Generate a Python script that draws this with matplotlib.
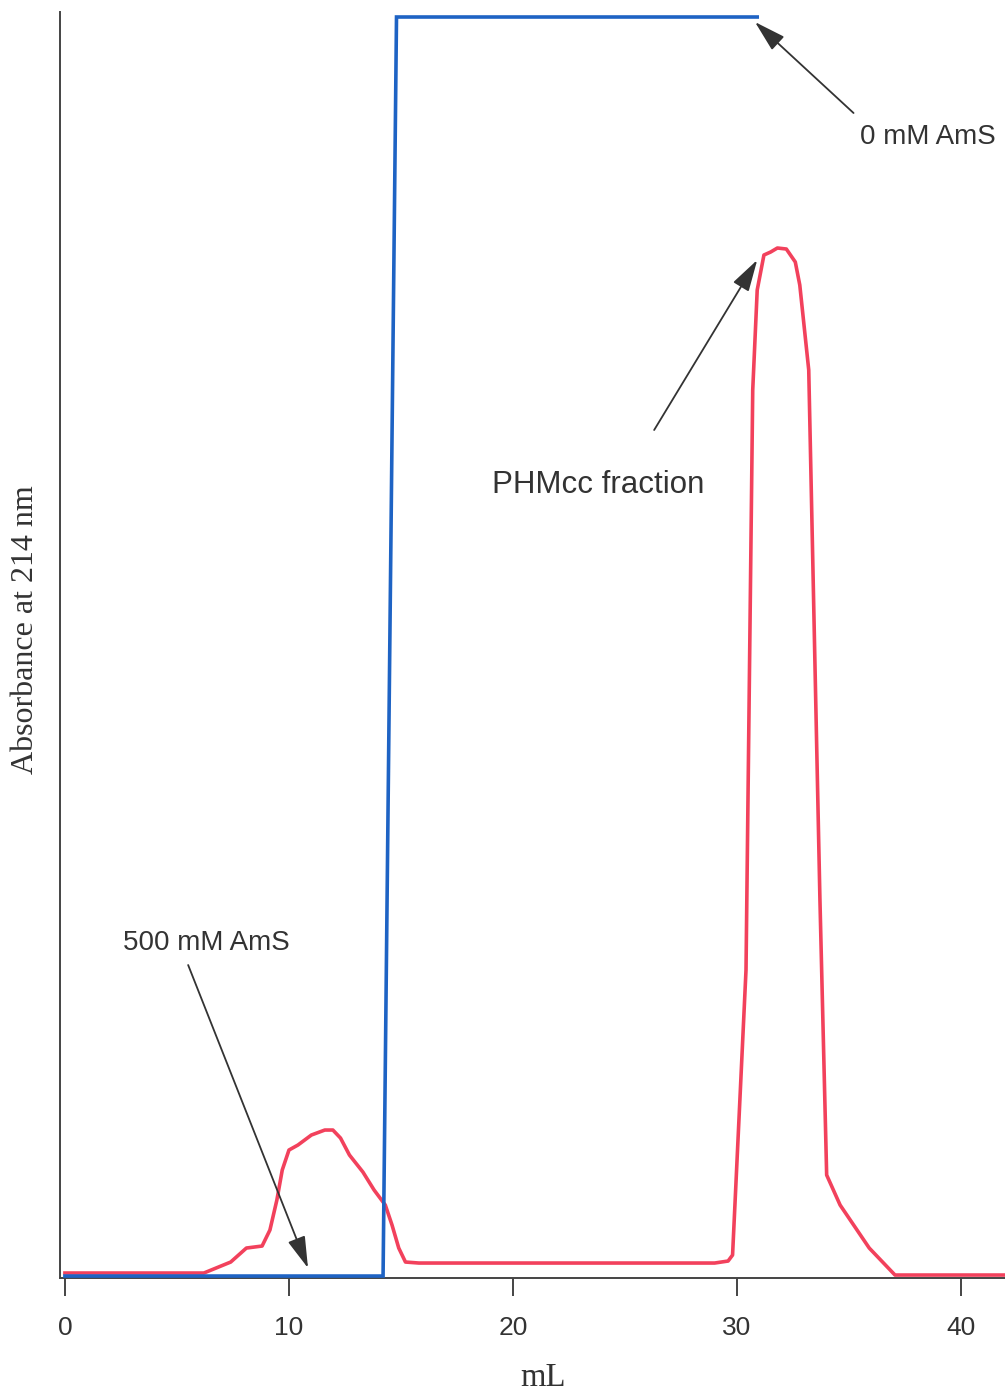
import matplotlib
matplotlib.use("Agg")
import matplotlib.pyplot as plt

# chromatogram (mL, absorbance in arbitrary units)
salt_ml = [0, 14.2, 14.8, 30.9]
salt_abs = [2, 2, 1261, 1261]

a214_ml = [0, 6.2, 7.4, 8.1, 8.8, 9.15, 9.46, 9.7, 10.0, 10.4, 11.0, 11.6, 11.96,
           12.3, 12.7, 13.3, 13.8, 14.3, 14.6, 14.9, 15.2, 15.8, 29.0, 29.6, 29.8,
           30.0, 30.4, 30.7, 30.9, 31.2, 31.5, 31.8, 32.2, 32.6, 32.8, 33.2, 33.7,
           34.0, 34.6, 35.9, 37.05, 42]
a214_abs = [5, 5, 16, 30, 32, 48, 78, 108, 128, 133, 143, 148, 148,
            140, 123, 106, 88, 73, 53, 30, 16, 15, 15, 17, 23,
            118, 308, 888, 988, 1023, 1026, 1030, 1029, 1016, 993, 908, 378,
            103, 73, 30, 3, 3]

xticks = [0, 10, 20, 30, 40]

fig = plt.figure(figsize=(10.05, 13.96), dpi=100)
ax = fig.add_axes([0.0597, 0.0845, 0.9403, 0.9069])

ax.plot(salt_ml, salt_abs, color="#1e63c4", lw=2.6, solid_joinstyle="miter", zorder=3)
ax.plot(a214_ml, a214_abs, color="#f2415c", lw=2.6, zorder=2)

ax.set_xlim(-0.22, 41.96)
ax.set_ylim(0, 1266)

for s in ["top", "right"]:
    ax.spines[s].set_visible(False)
for s in ["left", "bottom"]:
    ax.spines[s].set_color("#444444")
    ax.spines[s].set_linewidth(1.4)

ax.set_xticks(xticks)
ax.set_yticks([])
ax.tick_params(axis="x", direction="out", length=13, width=1.4, color="#444444",
               pad=14, labelsize=19, labelcolor="#333333")
for lab in ax.get_xticklabels():
    lab.set_fontfamily("Liberation Sans")

ax.set_xlabel("mL", family="Liberation Serif", fontsize=23.5, color="#333333", va="center")
ax.set_ylabel("Absorbance at 214 nm", family="Liberation Serif", fontsize=23,
              color="#333333", va="center")
ax.xaxis.set_label_coords(0.511, -0.079)
ax.yaxis.set_label_coords(-0.036, 0.512)

arrow = dict(arrowstyle="-|>,head_length=0.7,head_width=0.2", color="#333333",
             lw=1.3, mutation_scale=28, shrinkA=0, shrinkB=0)
ax.annotate("", xy=(30.8, 1256), xytext=(35.2, 1165), arrowprops=arrow)
ax.text(38.5, 1141, "0 mM AmS", family="Liberation Sans", fontsize=20,
        color="#333333", ha="center", va="center")

ax.annotate("", xy=(30.9, 1018), xytext=(26.3, 848), arrowprops=arrow)
ax.text(23.8, 793, "PHMcc fraction", family="Liberation Sans", fontsize=22.5,
        color="#333333", ha="center", va="center")

ax.annotate("", xy=(10.85, 10), xytext=(5.5, 313), arrowprops=arrow)
ax.text(6.3, 335, "500 mM AmS", family="Liberation Sans", fontsize=20,
        color="#333333", ha="center", va="center")

fig.savefig("out.png", dpi=100)
